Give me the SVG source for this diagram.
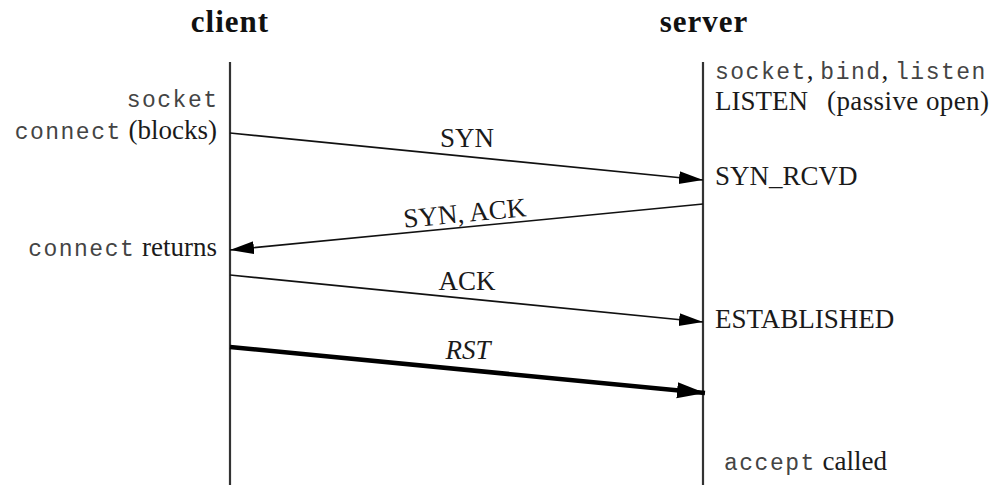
<svg xmlns="http://www.w3.org/2000/svg" width="997" height="485" viewBox="0 0 997 485">
<style>
.title{font-family:"Liberation Serif",serif;font-weight:bold;font-size:31px;fill:#111;letter-spacing:1px}
.serif{font-family:"Liberation Serif",serif;font-size:27px;fill:#1a1a1a}
.mono{font-family:"Liberation Mono",monospace;font-size:23px;letter-spacing:1.5px;fill:#444}
.life{stroke:#333;stroke-width:2.2;fill:none}
.msg{stroke:#111;stroke-width:1.6;fill:none}
.thick{stroke:#000;stroke-width:4.5;fill:none}
</style>
<defs>
<marker id="ah" markerUnits="userSpaceOnUse" markerWidth="26" markerHeight="14" refX="24" refY="6.5" orient="auto">
<path d="M0,0 L24,6.5 L0,13 z" fill="#000"/>
</marker>
<marker id="ahb" markerUnits="userSpaceOnUse" markerWidth="30" markerHeight="18" refX="28" refY="8" orient="auto">
<path d="M0,0 L28,8 L0,16 z" fill="#000"/>
</marker>
</defs>
<rect width="997" height="485" fill="#fff"/>
<g id="client">
<text class="title" x="230" y="32" text-anchor="middle">client</text>
<line class="life" x1="230" y1="62" x2="230" y2="485"/>
<text class="mono" x="218.5" y="107" text-anchor="end">socket</text>
<text x="217" y="139" text-anchor="end"><tspan class="mono">connect</tspan><tspan class="serif"> (blocks)</tspan></text>
<text x="217" y="256" text-anchor="end"><tspan class="mono">connect</tspan><tspan class="serif"> returns</tspan></text>
</g>
<g id="server">
<text class="title" x="704" y="32" text-anchor="middle">server</text>
<line class="life" x1="703" y1="62" x2="703" y2="485"/>
<text x="715" y="79"><tspan class="mono">socket</tspan><tspan class="serif">, </tspan><tspan class="mono">bind</tspan><tspan class="serif">, </tspan><tspan class="mono">listen</tspan></text>
<text class="serif" x="715" y="110">LISTEN</text>
<text class="serif" x="827" y="110" textLength="162" lengthAdjust="spacing">(passive open)</text>
<text class="serif" x="715" y="185">SYN_RCVD</text>
<text class="serif" x="715" y="328">ESTABLISHED</text>
<text x="724" y="470"><tspan class="mono">accept</tspan><tspan class="serif"> called</tspan></text>
</g>
<g id="connectors">
<line class="msg" x1="230" y1="133" x2="703" y2="180" marker-end="url(#ah)"/>
<text class="serif" x="467" y="147" text-anchor="middle">SYN</text>
<line class="msg" x1="703" y1="204" x2="230" y2="250" marker-end="url(#ah)"/>
<text class="serif" x="465" y="222" text-anchor="middle" transform="rotate(-5.5 465 216)">SYN, ACK</text>
<line class="msg" x1="230" y1="275" x2="703" y2="322" marker-end="url(#ah)"/>
<text class="serif" x="467" y="290" text-anchor="middle">ACK</text>
<line class="thick" x1="230" y1="347" x2="705" y2="393" marker-end="url(#ahb)"/>
<text class="serif" x="468" y="359" text-anchor="middle" font-style="italic">RST</text>
</g>
</svg>
